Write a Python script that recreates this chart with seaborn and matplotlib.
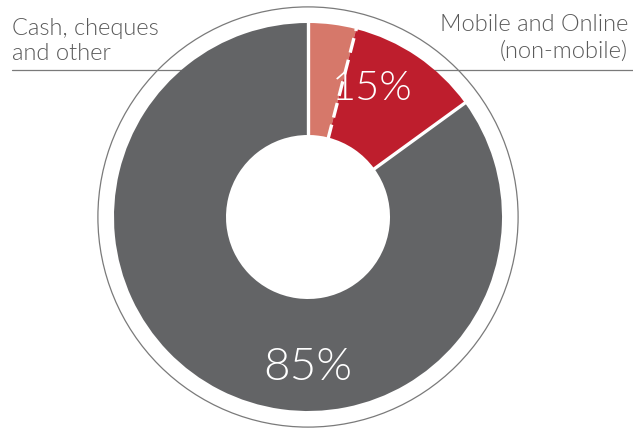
import numpy as np
import matplotlib
matplotlib.use("Agg")
import matplotlib.pyplot as plt
from matplotlib.patches import Circle
import seaborn as sns

# ---- data ----
categories = ["Mobile", "Online (non-mobile)", "Cash, cheques and other"]
values = [4, 11, 85]
colors = ["#D6786A", "#BE1E2D", "#636466"]
label_left = "Cash, cheques\nand other"
label_right = "Mobile and Online\n(non-mobile)"
pct_labels = ["15%", "85%"]

sns.set_theme(style="white")
plt.rcParams["font.family"] = ["Lato", "DejaVu Sans"]

W, H = 633, 434
fig = plt.figure(figsize=(W / 100, H / 100), dpi=100)
ax = fig.add_axes([0, 0, 1, 1])

cx, cy, R = 308, 217, 194  # pixel geometry


def px(x, y):
    return (x - cx) / R, (cy - y) / R


hole = 82 / R
ax.pie(values, colors=colors, startangle=90, counterclock=False,
       radius=1.0, wedgeprops=dict(width=1 - hole, linewidth=0),
       center=(0, 0))

# boundaries between slices
cum = np.concatenate([[0], np.cumsum(values)]) / np.sum(values)
for i, f in enumerate(cum[:-1]):
    ang = np.deg2rad(90 - 360 * f)
    xs = [hole * np.cos(ang) * 0.98, 1.01 * np.cos(ang)]
    ys = [hole * np.sin(ang) * 0.98, 1.01 * np.sin(ang)]
    if i == 1:
        ax.plot(xs, ys, color="white", lw=2.4, linestyle=(0, (4.5, 2.2)),
                solid_capstyle="butt", zorder=5)
    else:
        ax.plot(xs, ys, color="white", lw=2.4, zorder=5)

# outer thin circle
ax.add_patch(Circle((0, 0), 1.083, fill=False, edgecolor="#7a7a7a", lw=0.9, zorder=0.5))

# horizontal rule behind donut
x0, y0 = px(12, 70)
x1, _ = px(W, 70)
ax.plot([x0, x1], [y0, y0], color="#7a7a7a", lw=0.9, zorder=0.4)

# category labels
tc = "#5a5a5a"
for k, line in enumerate(label_left.split("\n")):
    x, y = px(12, 35 + 25 * k)
    ax.text(x, y, line, ha="left", va="baseline", fontsize=17,
            color=tc, fontweight=300)
for k, line in enumerate(label_right.split("\n")):
    x, y = px(628, 31 + 27 * k)
    ax.text(x, y, line, ha="right", va="baseline", fontsize=17,
            color=tc, fontweight=300)

# percentages
x, y = px(372, 100)
ax.text(x, y, pct_labels[0], ha="center", va="baseline", fontsize=30,
        color="white", fontweight=300, zorder=6)
x, y = px(308, 380)
ax.text(x, y, pct_labels[1], ha="center", va="baseline", fontsize=33,
        color="white", fontweight=300, zorder=6)

ax.set_xlim(-cx / R, (W - cx) / R)
ax.set_ylim(-(H - cy) / R, cy / R)
ax.set_aspect("auto")
ax.axis("off")

fig.savefig("out.png", dpi=100, facecolor="white")
